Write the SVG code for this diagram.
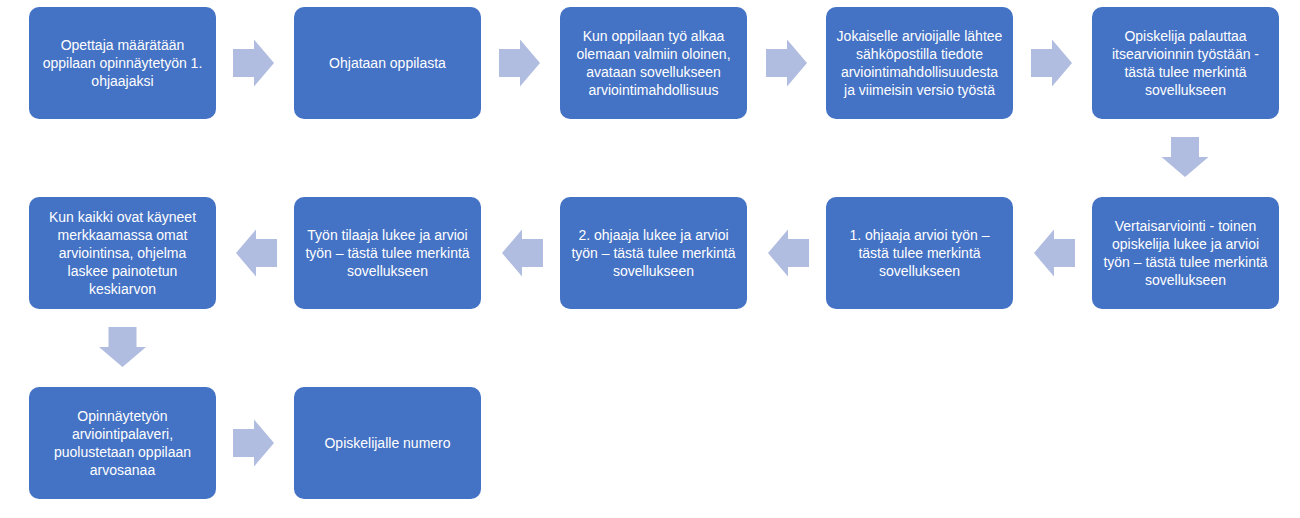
<svg xmlns="http://www.w3.org/2000/svg" xmlns:xlink="http://www.w3.org/1999/xlink" width="1300" height="518" viewBox="0 0 1300 518">
<style>
.box{fill:#4472C4;}
.arr{fill:#B1BDE0;}
text{font-family:"Liberation Sans",Arial,sans-serif;font-size:14px;fill:#FFFFFF;text-anchor:middle;}
</style>
<defs>
<path id="ra" d="M0,-14 H21 V-23.5 L41,0 L21,23.5 V14 H0 Z"/>
<path id="la" d="M0,0 L20,-23.5 V-14 H41 V14 H20 V23.5 Z"/>
<path id="da" d="M-14,0 H14 V20 H23.5 L0,40 L-23.5,20 H-14 Z"/>
</defs>
<rect width="1300" height="518" fill="#FFFFFF"/>
<g id="connectors" class="arr">
<use xlink:href="#ra" href="#ra" x="233" y="63"/>
<use xlink:href="#ra" href="#ra" x="499" y="63"/>
<use xlink:href="#ra" href="#ra" x="766" y="63"/>
<use xlink:href="#ra" href="#ra" x="1031" y="63"/>
<use xlink:href="#da" href="#da" x="1185" y="137"/>
<use xlink:href="#la" href="#la" x="1034" y="253"/>
<use xlink:href="#la" href="#la" x="768" y="253"/>
<use xlink:href="#la" href="#la" x="502" y="253"/>
<use xlink:href="#la" href="#la" x="236" y="253"/>
<use xlink:href="#da" href="#da" x="122.5" y="327"/>
<use xlink:href="#ra" href="#ra" x="233" y="443"/>
</g>
<g id="n1">
<rect class="box" x="29" y="7" width="187" height="112" rx="10"/>
<text x="122.5" y="50">Opettaja määrätään</text>
<text x="122.5" y="68">oppilaan opinnäytetyön 1.</text>
<text x="122.5" y="86">ohjaajaksi</text>
</g>
<g id="n2">
<rect class="box" x="294" y="7" width="187" height="112" rx="10"/>
<text x="387.5" y="68">Ohjataan oppilasta</text>
</g>
<g id="n3">
<rect class="box" x="560" y="7" width="187" height="112" rx="10"/>
<text x="653.5" y="41">Kun oppilaan työ alkaa</text>
<text x="653.5" y="59">olemaan valmiin oloinen,</text>
<text x="653.5" y="77">avataan sovellukseen</text>
<text x="653.5" y="95">arviointimahdollisuus</text>
</g>
<g id="n4">
<rect class="box" x="826" y="7" width="187" height="112" rx="10"/>
<text x="919.5" y="41">Jokaiselle arvioijalle lähtee</text>
<text x="919.5" y="59">sähköpostilla tiedote</text>
<text x="919.5" y="77">arviointimahdollisuudesta</text>
<text x="919.5" y="95">ja viimeisin versio työstä</text>
</g>
<g id="n5">
<rect class="box" x="1092" y="7" width="187" height="112" rx="10"/>
<text x="1185.5" y="41">Opiskelija palauttaa</text>
<text x="1185.5" y="59">itsearvioinnin työstään -</text>
<text x="1185.5" y="77">tästä tulee merkintä</text>
<text x="1185.5" y="95">sovellukseen</text>
</g>
<g id="n6">
<rect class="box" x="1092" y="197" width="187" height="112" rx="10"/>
<text x="1185.5" y="231">Vertaisarviointi - toinen</text>
<text x="1185.5" y="249">opiskelija lukee ja arvioi</text>
<text x="1185.5" y="267">työn – tästä tulee merkintä</text>
<text x="1185.5" y="285">sovellukseen</text>
</g>
<g id="n7">
<rect class="box" x="826" y="197" width="187" height="112" rx="10"/>
<text x="919.5" y="240">1. ohjaaja arvioi työn –</text>
<text x="919.5" y="258">tästä tulee merkintä</text>
<text x="919.5" y="276">sovellukseen</text>
</g>
<g id="n8">
<rect class="box" x="560" y="197" width="187" height="112" rx="10"/>
<text x="653.5" y="240">2. ohjaaja lukee ja arvioi</text>
<text x="653.5" y="258">työn – tästä tulee merkintä</text>
<text x="653.5" y="276">sovellukseen</text>
</g>
<g id="n9">
<rect class="box" x="294" y="197" width="187" height="112" rx="10"/>
<text x="387.5" y="240">Työn tilaaja lukee ja arvioi</text>
<text x="387.5" y="258">työn – tästä tulee merkintä</text>
<text x="387.5" y="276">sovellukseen</text>
</g>
<g id="n10">
<rect class="box" x="29" y="197" width="187" height="112" rx="10"/>
<text x="122.5" y="222">Kun kaikki ovat käyneet</text>
<text x="122.5" y="240">merkkaamassa omat</text>
<text x="122.5" y="258">arviointinsa, ohjelma</text>
<text x="122.5" y="276">laskee painotetun</text>
<text x="122.5" y="294">keskiarvon</text>
</g>
<g id="n11">
<rect class="box" x="29" y="387" width="187" height="112" rx="10"/>
<text x="122.5" y="421">Opinnäytetyön</text>
<text x="122.5" y="439">arviointipalaveri,</text>
<text x="122.5" y="457">puolustetaan oppilaan</text>
<text x="122.5" y="475">arvosanaa</text>
</g>
<g id="n12">
<rect class="box" x="294" y="387" width="187" height="112" rx="10"/>
<text x="387.5" y="448">Opiskelijalle numero</text>
</g>
</svg>
